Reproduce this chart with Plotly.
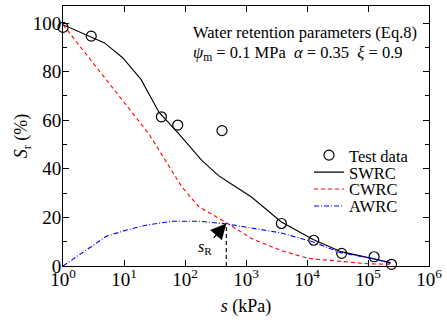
import plotly.graph_objects as go

# Test data
test_s = [1, 2.9, 41, 76, 404, 3800, 12900, 37000, 126000, 243000]
test_sr = [98.2, 94.6, 61.4, 58.0, 55.7, 17.5, 10.6, 5.2, 3.8, 0.7]

# SWRC (black solid)
swrc_s = [1, 4.8, 9.5, 19, 37.6, 80, 190, 355, 519, 1230, 3800, 12600, 36300, 120000, 234000]
swrc_sr = [99.3, 91.8, 85.7, 76.8, 63.2, 54.3, 43.4, 37.2, 34.5, 28.4, 18.1, 10.9, 5.9, 3.1, 1.4]

# CWRC (red dashed)
cwrc_s = [1, 25.7, 47.9, 89, 170, 457, 1230, 3630, 10500, 36300, 100000, 234000]
cwrc_sr = [99.3, 54.3, 43.4, 32.5, 24.3, 18.1, 11.3, 6.5, 3.1, 1.8, 0.9, 0.7]

# AWRC (blue dash-dot)
awrc_s = [1, 5.1, 10.7, 22.9, 61.7, 170, 457, 3800, 12600, 36300, 120000, 234000]
awrc_sr = [0, 12.2, 14.7, 16.8, 18.4, 18.4, 17.4, 13.6, 9.9, 5.4, 3.1, 1.0]

# s_R marker
sR = [475, 475]
sR_sr = [0, 17.5]

xtick_vals = [1, 10, 100, 1000, 10000, 100000, 1000000]
xtick_text = ["10<sup>0</sup>", "10<sup>1</sup>", "10<sup>2</sup>", "10<sup>3</sup>",
              "10<sup>4</sup>", "10<sup>5</sup>", "10<sup>6</sup>"]
ytick_vals = [0, 20, 40, 60, 80, 100]

FONT = "Liberation Serif"

L, R, T, B = 63, 15, 5, 54
W, H = 447, 320
pw, ph = W - L - R, H - T - B


def px(x):
    return (x - L) / pw


def py(y):
    return 1 - (y - T) / ph


fig = go.Figure()
fig.add_trace(go.Scatter(x=test_s, y=test_sr, mode="markers", name="Test data",
                         marker=dict(symbol="circle-open", size=10, color="black",
                                     line=dict(width=1.2, color="black")),
                         cliponaxis=False, legend="legend"))
fig.add_trace(go.Scatter(x=swrc_s, y=swrc_sr, mode="lines", name="SWRC",
                         line=dict(color="black", width=1.1), legend="legend2"))
fig.add_trace(go.Scatter(x=cwrc_s, y=cwrc_sr, mode="lines", name="CWRC",
                         line=dict(color="red", width=1.1, dash="4px,3px"), legend="legend3"))
fig.add_trace(go.Scatter(x=awrc_s, y=awrc_sr, mode="lines", name="AWRC",
                         line=dict(color="blue", width=1.1, dash="5px,2px,1px,2px"), legend="legend4"))
fig.add_trace(go.Scatter(x=sR, y=sR_sr, mode="lines", showlegend=False,
                         line=dict(color="black", width=1.1, dash="4px,3px")))

fig.add_annotation(x=2.6767, y=17.5, xref="x", yref="y",
                   text="<i>s</i><sub>R</sub>", showarrow=True,
                   ax=-21, ay=24, arrowhead=2, arrowsize=2.4, arrowwidth=1.3,
                   arrowcolor="black", standoff=0,
                   font=dict(family=FONT, size=16, color="black"))

fig.add_annotation(x=px(192), y=py(31.7), xref="paper", yref="paper", showarrow=False,
                   text="Water retention parameters (Eq.8)", xanchor="left", yanchor="middle",
                   font=dict(family=FONT, size=16.5, color="black"))
fig.add_annotation(x=px(192), y=py(51.7), xref="paper", yref="paper", showarrow=False,
                   text="<i>ψ</i><sub>m</sub> = 0.1 MPa  <i>α</i> = 0.35  <i>ξ</i> = 0.9",
                   xanchor="left", yanchor="middle",
                   font=dict(family=FONT, size=16.5, color="black"))

leg_common = dict(bgcolor="rgba(0,0,0,0)", font=dict(family=FONT, size=16.5, color="black"),
                  itemwidth=30, xanchor="left", yanchor="middle")
legend_rows = {"legend": 155, "legend2": 172, "legend3": 189, "legend4": 206}
leg_layout = {k: dict(x=px(311), y=py(v), **leg_common) for k, v in legend_rows.items()}

tickfont = dict(family=FONT, size=19, color="black")

fig.update_layout(
    width=W, height=H,
    margin=dict(l=L, r=R, t=T, b=B),
    paper_bgcolor="white", plot_bgcolor="white",
    font=dict(family=FONT, size=18, color="black"),
    showlegend=True,
    **leg_layout,
    xaxis=dict(type="log", range=[0, 6], tickvals=xtick_vals, ticktext=xtick_text,
               tickfont=tickfont, ticklabelstandoff=-4,
               ticks="inside", ticklen=6, tickwidth=1, tickcolor="black",
               showline=True, linecolor="black", linewidth=1, mirror="allticks",
               showgrid=False, zeroline=False,
               title=dict(text="<i>s</i> (kPa)", standoff=10, font=dict(family=FONT, size=18))),
    yaxis=dict(range=[0, 107], tickvals=ytick_vals, tickfont=tickfont, ticklabelstandoff=-3,
               ticks="inside", ticklen=6, tickwidth=1, tickcolor="black",
               minor=dict(dtick=10, ticks="inside", ticklen=4, tickcolor="black", showgrid=False),
               showline=True, linecolor="black", linewidth=1, mirror="allticks",
               showgrid=False, zeroline=False,
               title=dict(text="<i>S</i><sub>r</sub> (%)", standoff=0, font=dict(family=FONT, size=18))),
)

fig.write_html("out.html")
